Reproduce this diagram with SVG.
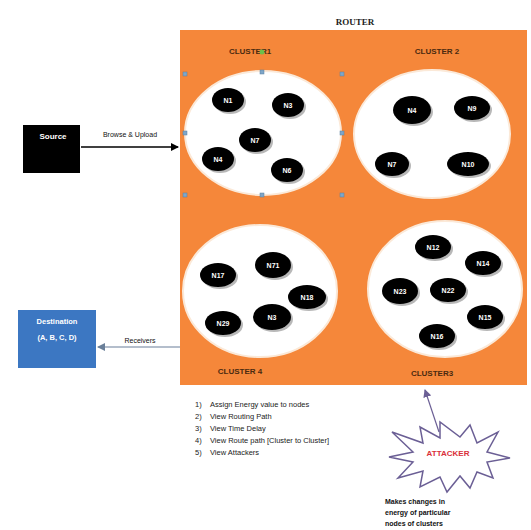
<svg xmlns="http://www.w3.org/2000/svg" width="531" height="530" viewBox="0 0 531 530">
<defs>
<style>
.clu{fill:#ffffff;stroke:#fbe9d8;stroke-width:2}
.nd{fill:#000}
.sh{fill:#b8b8b8}
.nt{font-family:"Liberation Sans",Arial,sans-serif;font-size:7px;fill:#fff;text-anchor:middle;font-weight:bold}
.cl{font-family:"Liberation Sans",Arial,sans-serif;font-size:8px;font-weight:bold;fill:#4a2a10;text-anchor:middle}
.lst{font-family:"Liberation Sans",Arial,sans-serif;font-size:7.5px;fill:#222}
.lbl{font-family:"Liberation Sans",Arial,sans-serif;font-size:7px;fill:#111;text-anchor:middle}
.hd{fill:#7fa6c8;stroke:#5a7fa0;stroke-width:0.5}
</style>
<marker id="ah" markerWidth="8" markerHeight="8" refX="7" refY="4" orient="auto" markerUnits="userSpaceOnUse">
<path d="M0,0 L8,4 L0,8 Z" fill="#000"/>
</marker>
<marker id="ahb" markerWidth="8" markerHeight="8" refX="7" refY="4" orient="auto" markerUnits="userSpaceOnUse">
<path d="M0,0 L8,4 L0,8 Z" fill="#6a7f99"/>
</marker>
<marker id="ahp" markerWidth="8" markerHeight="8" refX="7" refY="4" orient="auto" markerUnits="userSpaceOnUse">
<path d="M0,0 L8,4 L0,8 Z" fill="#6b5f95"/>
</marker>
</defs>
<rect width="531" height="530" fill="#fff"/>

<g id="router">
<rect x="180" y="30" width="347" height="355" fill="#f5873a"/>
<text x="355" y="25" font-family="Liberation Serif,serif" font-size="9" font-weight="bold" text-anchor="middle" fill="#222">ROUTER</text>
</g>

<g id="cluster1">
<ellipse class="clu" cx="263" cy="133" rx="78" ry="62"/>
<text class="cl" x="250" y="54">CLUSTER1</text>
<circle cx="262" cy="52" r="2.5" fill="#6cc04a"/>
<rect class="hd" x="183" y="72" width="4" height="4"/><rect class="hd" x="260" y="70" width="4" height="4"/><rect class="hd" x="340" y="72" width="4" height="4"/>
<rect class="hd" x="183" y="131" width="4" height="4"/><rect class="hd" x="340" y="131" width="4" height="4"/>
<rect class="hd" x="183" y="193" width="4" height="4"/><rect class="hd" x="260" y="193" width="4" height="4"/><rect class="hd" x="340" y="193" width="4" height="4"/>
<g id="c1n1"><ellipse class="sh" cx="230" cy="102" rx="16" ry="12"/><ellipse class="nd" cx="228" cy="100" rx="16" ry="12"/><text class="nt" x="228" y="103">N1</text></g>
<g id="c1n3"><ellipse class="sh" cx="290" cy="107" rx="16" ry="12"/><ellipse class="nd" cx="288" cy="105" rx="16" ry="12"/><text class="nt" x="288" y="108">N3</text></g>
<g id="c1n7"><ellipse class="sh" cx="257" cy="142" rx="16" ry="12"/><ellipse class="nd" cx="255" cy="140" rx="16" ry="12"/><text class="nt" x="255" y="143">N7</text></g>
<g id="c1n4"><ellipse class="sh" cx="220" cy="161" rx="16" ry="12"/><ellipse class="nd" cx="218" cy="159" rx="16" ry="12"/><text class="nt" x="218" y="162">N4</text></g>
<g id="c1n6"><ellipse class="sh" cx="289" cy="172" rx="16" ry="12"/><ellipse class="nd" cx="287" cy="170" rx="16" ry="12"/><text class="nt" x="287" y="173">N6</text></g>
</g>

<g id="cluster2">
<ellipse class="clu" cx="432" cy="134" rx="78" ry="64"/>
<text class="cl" x="437" y="54">CLUSTER 2</text>
<g id="c2n4"><ellipse class="sh" cx="414" cy="112" rx="19" ry="14"/><ellipse class="nd" cx="412" cy="110" rx="19" ry="14"/><text class="nt" x="412" y="113">N4</text></g>
<g id="c2n9"><ellipse class="sh" cx="474" cy="110" rx="18" ry="12"/><ellipse class="nd" cx="472" cy="108" rx="18" ry="12"/><text class="nt" x="472" y="111">N9</text></g>
<g id="c2n7"><ellipse class="sh" cx="394" cy="166" rx="17" ry="12"/><ellipse class="nd" cx="392" cy="164" rx="17" ry="12"/><text class="nt" x="392" y="167">N7</text></g>
<g id="c2n10"><ellipse class="sh" cx="470" cy="166" rx="21" ry="12"/><ellipse class="nd" cx="468" cy="164" rx="21" ry="12"/><text class="nt" x="468" y="167">N10</text></g>
</g>

<g id="cluster4">
<ellipse class="clu" cx="260" cy="291" rx="77" ry="66"/>
<text class="cl" x="240" y="374">CLUSTER 4</text>
<g id="c4n17"><ellipse class="sh" cx="220" cy="277" rx="18" ry="12"/><ellipse class="nd" cx="218" cy="275" rx="18" ry="12"/><text class="nt" x="218" y="278">N17</text></g>
<g id="c4n71"><ellipse class="sh" cx="275" cy="267" rx="18" ry="13"/><ellipse class="nd" cx="273" cy="265" rx="18" ry="13"/><text class="nt" x="273" y="268">N71</text></g>
<g id="c4n18"><ellipse class="sh" cx="309" cy="299" rx="19" ry="12"/><ellipse class="nd" cx="307" cy="297" rx="19" ry="12"/><text class="nt" x="307" y="300">N18</text></g>
<g id="c4n29"><ellipse class="sh" cx="225" cy="325" rx="18" ry="12"/><ellipse class="nd" cx="223" cy="323" rx="18" ry="12"/><text class="nt" x="223" y="326">N29</text></g>
<g id="c4n3"><ellipse class="sh" cx="274" cy="319" rx="19" ry="13"/><ellipse class="nd" cx="272" cy="317" rx="19" ry="13"/><text class="nt" x="272" y="320">N3</text></g>
</g>

<g id="cluster3">
<ellipse class="clu" cx="445" cy="289" rx="77" ry="68"/>
<text class="cl" x="432" y="376">CLUSTER3</text>
<g id="c3n12"><ellipse class="sh" cx="435" cy="249" rx="18" ry="12"/><ellipse class="nd" cx="433" cy="247" rx="18" ry="12"/><text class="nt" x="433" y="250">N12</text></g>
<g id="c3n14"><ellipse class="sh" cx="485" cy="265" rx="18" ry="12"/><ellipse class="nd" cx="483" cy="263" rx="18" ry="12"/><text class="nt" x="483" y="266">N14</text></g>
<g id="c3n23"><ellipse class="sh" cx="402" cy="293" rx="18" ry="13"/><ellipse class="nd" cx="400" cy="291" rx="18" ry="13"/><text class="nt" x="400" y="294">N23</text></g>
<g id="c3n22"><ellipse class="sh" cx="450" cy="292" rx="18" ry="12"/><ellipse class="nd" cx="448" cy="290" rx="18" ry="12"/><text class="nt" x="448" y="293">N22</text></g>
<g id="c3n15"><ellipse class="sh" cx="487" cy="319" rx="18" ry="12"/><ellipse class="nd" cx="485" cy="317" rx="18" ry="12"/><text class="nt" x="485" y="320">N15</text></g>
<g id="c3n16"><ellipse class="sh" cx="439" cy="338" rx="18" ry="12"/><ellipse class="nd" cx="437" cy="336" rx="18" ry="12"/><text class="nt" x="437" y="339">N16</text></g>
</g>

<g id="source">
<rect x="23" y="125" width="57" height="48" fill="#000"/>
<text x="53" y="139" font-family="Liberation Sans,Arial,sans-serif" font-size="8" font-weight="bold" fill="#fff" text-anchor="middle">Source</text>
</g>

<g id="destination">
<rect x="18" y="310" width="78" height="58" fill="#3c77c2"/>
<text x="57" y="324" font-family="Liberation Sans,Arial,sans-serif" font-size="7.5" font-weight="bold" fill="#fff" text-anchor="middle">Destination</text>
<text x="57" y="340" font-family="Liberation Sans,Arial,sans-serif" font-size="7.5" font-weight="bold" fill="#fff" text-anchor="middle">(A, B, C, D)</text>
</g>

<g id="attacker">
<polygon points="510,458 487,462 493,478 477,472 470,488 460,476 447,492 440,477 420,487 423,471 398,478 413,462 389,457 413,452 392,432 423,443 420,427 440,438 440,422 460,437 470,425 477,443 498,432 487,452" fill="#fff" stroke="#6b5f95" stroke-width="1.5" stroke-linejoin="miter"/>
<text x="448" y="456" font-family="Liberation Sans,Arial,sans-serif" font-size="8" font-weight="bold" fill="#d9303a" text-anchor="middle">ATTACKER</text>
<text x="385" y="504" font-family="Liberation Sans,Arial,sans-serif" font-size="7" font-weight="bold" fill="#111">Makes changes in</text>
<text x="385" y="515" font-family="Liberation Sans,Arial,sans-serif" font-size="7" font-weight="bold" fill="#111">energy of  particular</text>
<text x="385" y="526" font-family="Liberation Sans,Arial,sans-serif" font-size="7" font-weight="bold" fill="#111">nodes  of clusters</text>
</g>

<g id="menu">
<text class="lst" x="195" y="407">1)</text><text class="lst" x="210" y="407">Assign Energy value to nodes</text>
<text class="lst" x="195" y="419">2)</text><text class="lst" x="210" y="419">View Routing Path</text>
<text class="lst" x="195" y="431">3)</text><text class="lst" x="210" y="431">View Time Delay</text>
<text class="lst" x="195" y="443">4)</text><text class="lst" x="210" y="443">View Route path [Cluster to Cluster]</text>
<text class="lst" x="195" y="455">5)</text><text class="lst" x="210" y="455">View Attackers</text>
</g>

<g id="connectors">
<line x1="81" y1="147" x2="178" y2="147" stroke="#000" stroke-width="1.5" marker-end="url(#ah)"/>
<text class="lbl" x="130" y="137">Browse &amp; Upload</text>
<line x1="180" y1="347" x2="98" y2="347" stroke="#6a7f99" stroke-width="1.2" marker-end="url(#ahb)"/>
<text class="lbl" x="140" y="343">Receivers</text>
<line x1="439" y1="432" x2="425" y2="390" stroke="#6b5f95" stroke-width="1.2" marker-end="url(#ahp)"/>
</g>
</svg>
